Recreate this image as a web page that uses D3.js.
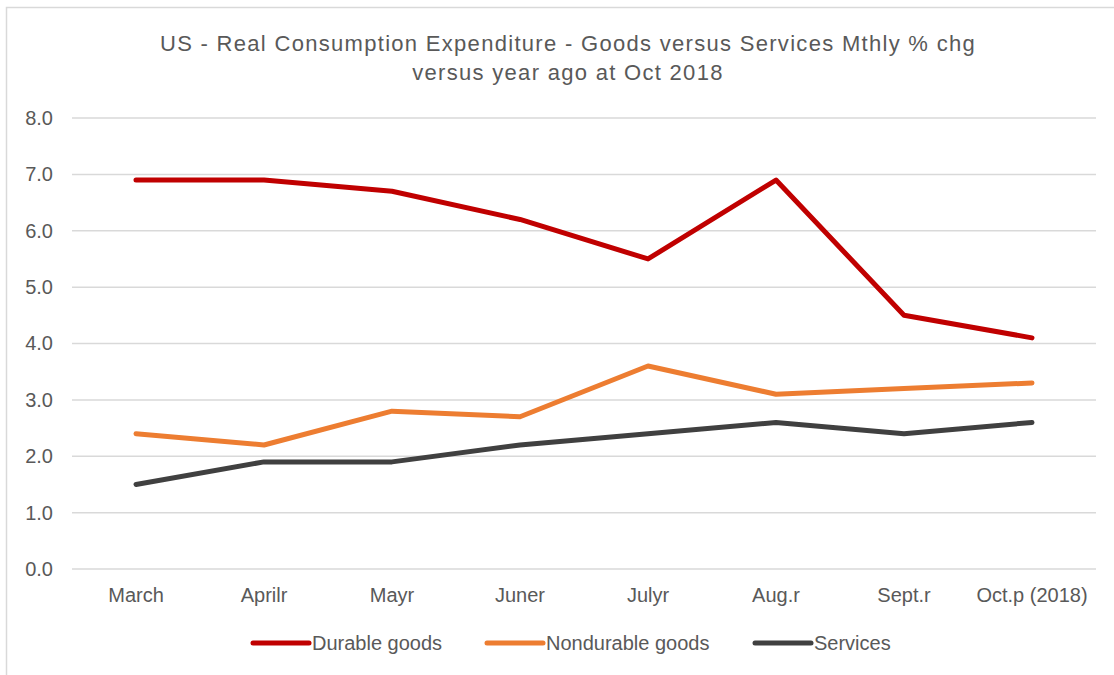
<!DOCTYPE html>
<html>
<head>
<meta charset="utf-8">
<script src="https://cdn.jsdelivr.net/npm/d3@7"></script>
<style>
  html, body { margin: 0; padding: 0; background: #fff; }
  svg { display: block; font-family: "Liberation Sans", Arial, sans-serif; }
</style>
</head>
<body>
<svg id="chart" width="1114" height="675"></svg>
<script>
// Monthly categories (2018)
const categories = ["March", "Aprilr", "Mayr", "Juner", "Julyr", "Aug.r", "Sept.r", "Oct.p (2018)"];

// % change versus year ago
const durableGoods    = [6.9, 6.9, 6.7, 6.2, 5.5, 6.9, 4.5, 4.1];
const nondurableGoods = [2.4, 2.2, 2.8, 2.7, 3.6, 3.1, 3.2, 3.3];
const services        = [1.5, 1.9, 1.9, 2.2, 2.4, 2.6, 2.4, 2.6];

const yTicks = [0, 1, 2, 3, 4, 5, 6, 7, 8];

const titleLines = [
  "US - Real Consumption Expenditure - Goods versus Services Mthly % chg",
  "versus year ago at Oct 2018"
];

const series = [
  { name: "Durable goods",    values: durableGoods,    color: "#C00000" },
  { name: "Nondurable goods", values: nondurableGoods, color: "#ED7D31" },
  { name: "Services",         values: services,        color: "#404040" }
];

const svg = d3.select("#chart");
const textColor = "#595959";

// outer frame
svg.append("rect")
  .attr("x", 6.5).attr("y", 7.5)
  .attr("width", 1200).attr("height", 1000)
  .attr("fill", "none")
  .attr("stroke", "#d9d9d9")
  .attr("stroke-width", 1.5);

const plot = { left: 72, right: 1096, top: 118, bottom: 569 };

const x = d3.scaleBand()
  .domain(categories)
  .range([plot.left, plot.right]);

const y = d3.scaleLinear()
  .domain([0, 8])
  .range([plot.bottom, plot.top]);

// title
svg.append("g")
  .selectAll("text")
  .data(titleLines)
  .join("text")
  .attr("x", 568)
  .attr("y", (d, i) => 51 + i * 29)
  .attr("text-anchor", "middle")
  .attr("font-size", 22)
  .attr("letter-spacing", 1.3)
  .attr("fill", textColor)
  .text(d => d);

// horizontal gridlines
svg.append("g")
  .selectAll("line")
  .data(yTicks)
  .join("line")
  .attr("x1", plot.left).attr("x2", plot.right)
  .attr("y1", d => y(d)).attr("y2", d => y(d))
  .attr("stroke", "#d9d9d9")
  .attr("stroke-width", 1.5);

// y axis
const yAxis = svg.append("g")
  .attr("transform", `translate(${plot.left - 19},0)`)
  .call(d3.axisLeft(y).tickValues(yTicks).tickFormat(d3.format(".1f")).tickSize(0).tickPadding(0));
yAxis.select(".domain").remove();
yAxis.selectAll("text")
  .attr("font-size", 20)
  .attr("font-family", "Liberation Sans, Arial, sans-serif")
  .attr("fill", textColor);

// x axis
const xAxis = svg.append("g")
  .attr("transform", `translate(0,${plot.bottom})`)
  .call(d3.axisBottom(x).tickSize(0).tickPadding(19));
xAxis.select(".domain").remove();
xAxis.selectAll("text")
  .attr("font-size", 20)
  .attr("font-family", "Liberation Sans, Arial, sans-serif")
  .attr("fill", textColor);

// lines
const line = d3.line()
  .x((d, i) => x(categories[i]) + x.bandwidth() / 2)
  .y(d => y(d));

svg.append("g")
  .selectAll("path")
  .data(series)
  .join("path")
  .attr("d", d => line(d.values))
  .attr("fill", "none")
  .attr("stroke", d => d.color)
  .attr("stroke-width", 5)
  .attr("stroke-linejoin", "round")
  .attr("stroke-linecap", "round");

// legend
const legendX = [253, 487, 755];
const legend = svg.append("g")
  .selectAll("g")
  .data(series)
  .join("g")
  .attr("transform", (d, i) => `translate(${legendX[i]},643)`);
legend.append("line")
  .attr("x1", 0).attr("x2", 56)
  .attr("y1", 0).attr("y2", 0)
  .attr("stroke", d => d.color)
  .attr("stroke-width", 5)
  .attr("stroke-linecap", "round");
legend.append("text")
  .attr("x", 59)
  .attr("y", 6.5)
  .attr("font-size", 20)
  .attr("fill", textColor)
  .text(d => d.name);
</script>
</body>
</html>
